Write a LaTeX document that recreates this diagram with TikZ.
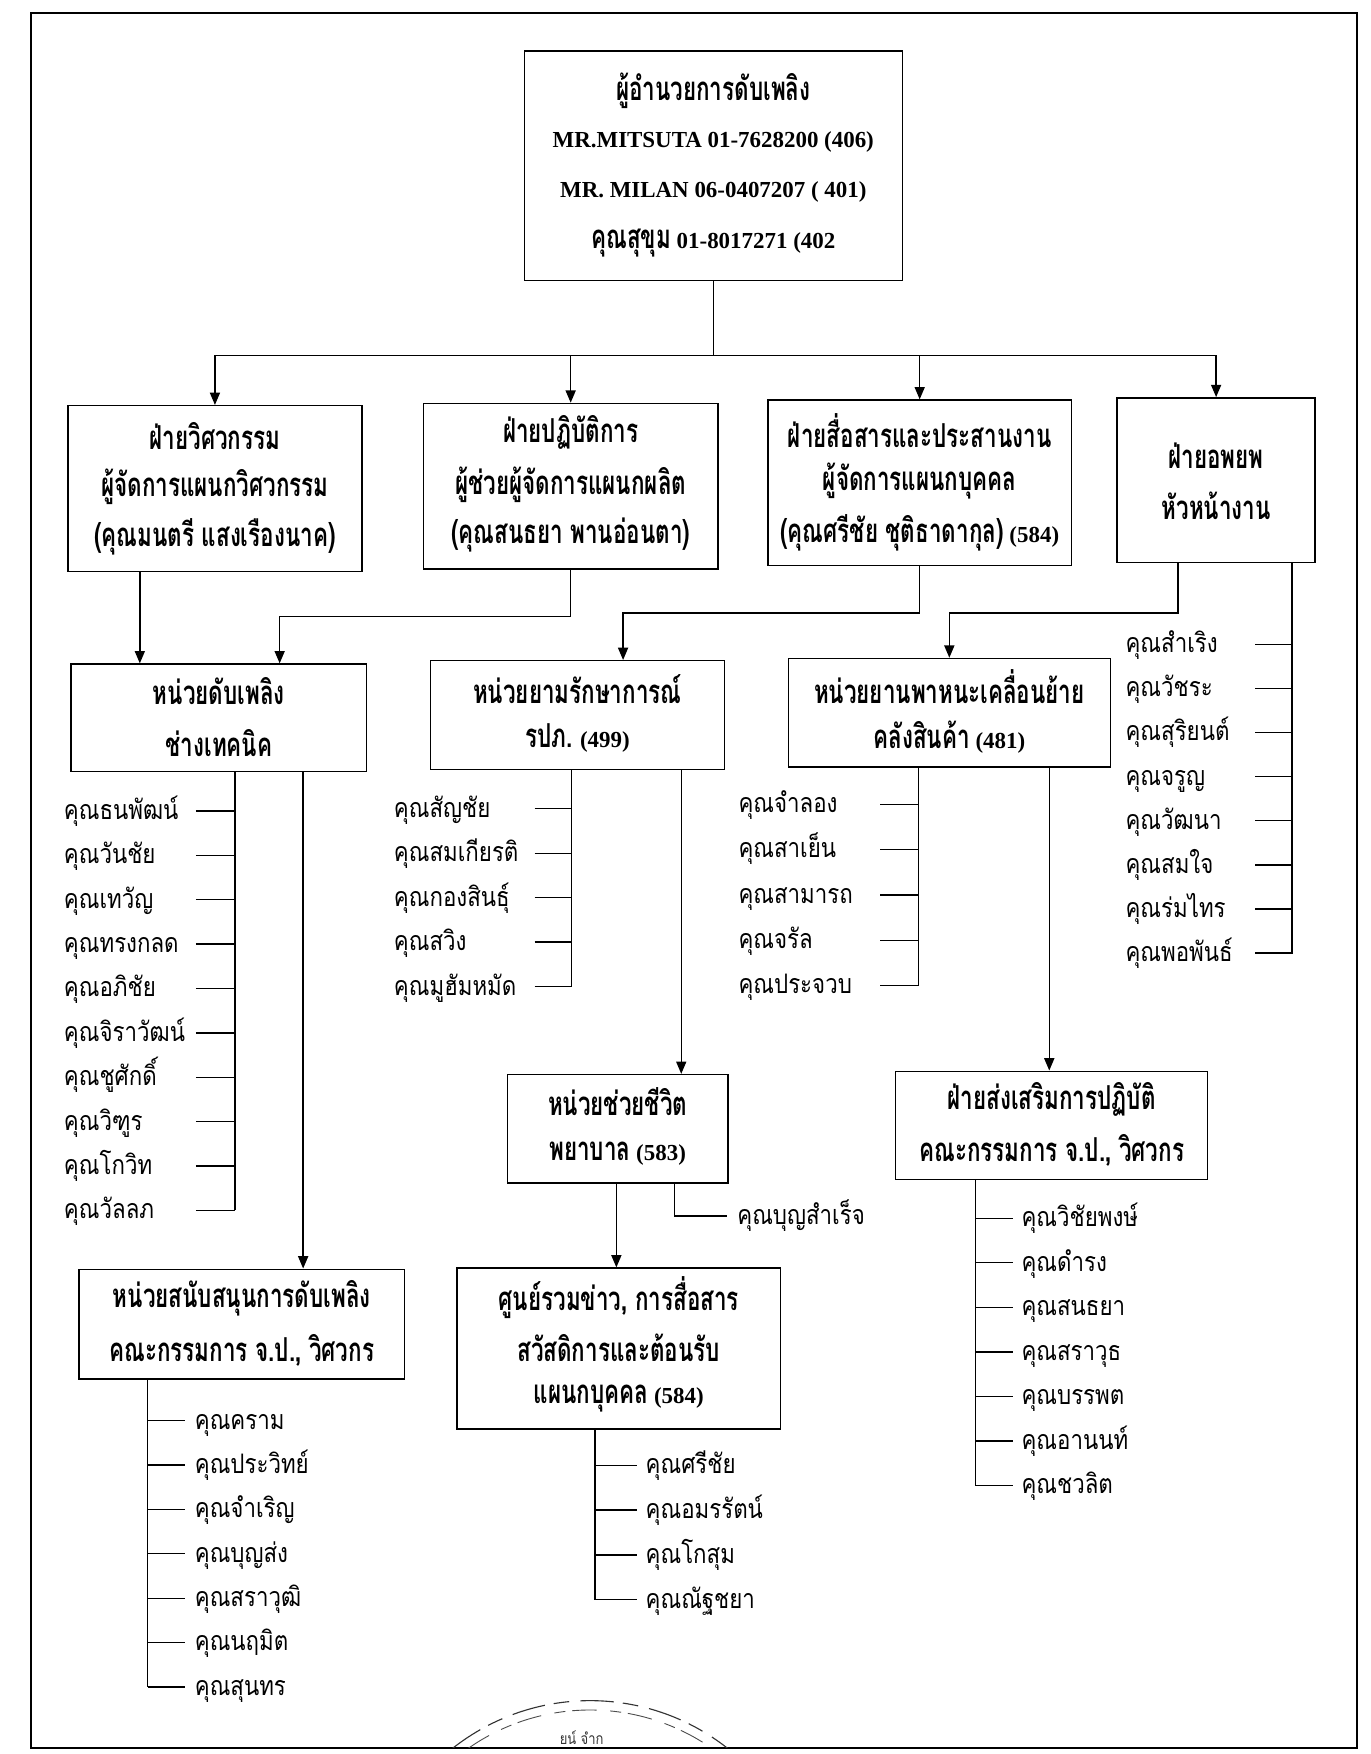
\documentclass[tikz,border=0pt]{standalone}
\usepackage{fontspec}
\setmainfont{Liberation Serif}
\newfontfamily\thaiB[Script=Thai,FakeStretch=0.68]{Loma}
\newfontfamily\thaiR[Script=Thai,FakeStretch=0.83]{Loma}
\usetikzlibrary{arrows.meta,calc}
\newcommand\TB[1]{{\thaiB\bfseries\fontsize{29.5}{32}\selectfont #1}}
\begin{document}
\begin{tikzpicture}[x=1pt,y=-1pt,
  box/.style={draw,line width=1.3pt,inner sep=0,anchor=north west},
  conn/.style={line width=1.2pt},
  arr/.style={conn,-{Triangle[length=11pt,width=9pt]}},
  ttl/.style={inner sep=0,font=\bfseries\fontsize{20.5}{24}\selectfont},
  nm/.style={inner sep=0,anchor=base west,font=\thaiR\fontsize{24}{28}\selectfont},
]
\useasboundingbox (0,0) rectangle (1225,1568);
\fill[white] (0,0) rectangle (1225,1568);
\draw[line width=1.8pt] (28,12) rectangle (1213,1563);

% ---------- boxes ----------
\node[box,minimum width=338,minimum height=205] (top) at (468,45) {};
\node[ttl] (top1) at (top.north |- 0,81) {\TB{ผู้อำนวยการดับเพลิง}};
\node[ttl] (top2) at (top.north |- 0,127) {MR.MITSUTA 01-7628200 (406)};
\node[ttl] (top3) at (top.north |- 0,172) {MR. MILAN 06-0407207 ( 401)};
\node[ttl] (top4) at (top.north |- 0,217) {\TB{คุณสุขุม} 01-8017271 (402};

\node[box,minimum width=263,minimum height=148] (b1) at (60,362) {};
\node[ttl] (b1a) at (b1.north |- 0,390) {\TB{ฝ่ายวิศวกรรม}};
\node[ttl] (b1b) at (b1.north |- 0,435) {\TB{ผู้จัดการแผนกวิศวกรรม}};
\node[ttl] (b1c) at (b1.north |- 0,480) {\TB{(คุณมนตรี แสงเรืองนาค)}};

\node[box,minimum width=263,minimum height=148] (b2) at (378,360) {};
\node[ttl] (b2a) at (b2.north |- 0,387) {\TB{ฝ่ายปฏิบัติการ}};
\node[ttl] (b2b) at (b2.north |- 0,433) {\TB{ผู้ช่วยผู้จัดการแผนกผลิต}};
\node[ttl] (b2c) at (b2.north |- 0,478) {\TB{(คุณสนธยา พานอ่อนตา)}};

\node[box,minimum width=271,minimum height=148] (b3) at (686,357) {};
\node[ttl] (b3a) at (b3.north |- 0,385) {\TB{ฝ่ายสื่อสารและประสานงาน}};
\node[ttl] (b3b) at (b3.north |- 0,430) {\TB{ผู้จัดการแผนกบุคคล}};
\node[ttl] (b3c) at (b3.north |- 0,476) {\TB{(คุณศรีชัย ชุติธาดากุล)} (584)};

\node[box,minimum width=177,minimum height=147] (b4) at (998,355) {};
\node[ttl] (b4a) at (b4.north |- 0,407) {\TB{ฝ่ายอพยพ}};
\node[ttl] (b4b) at (b4.north |- 0,452) {\TB{หัวหน้างาน}};

\node[box,minimum width=264,minimum height=96] (c1) at (63,593) {};
\node[ttl] (c1a) at (c1.north |- 0,618) {\TB{หน่วยดับเพลิง}};
\node[ttl] (c1b) at (c1.north |- 0,664) {\TB{ช่างเทคนิค}};

\node[box,minimum width=263,minimum height=97] (c2) at (384,590) {};
\node[ttl] (c2a) at (c2.north |- 0,616) {\TB{หน่วยยามรักษาการณ์}};
\node[ttl] (c2b) at (c2.north |- 0,660) {\TB{รปภ.} (499)};

\node[box,minimum width=288,minimum height=97] (c3) at (704,588) {};
\node[ttl] (c3a) at (c3.north |- 0,614) {\TB{หน่วยยานพาหนะเคลื่อนย้าย}};
\node[ttl] (c3b) at (c3.north |- 0,659) {\TB{คลังสินค้า} (481)};

\node[box,minimum width=291,minimum height=98] (d1) at (70,1134) {};
\node[ttl] (d1a) at (d1.north |- 0,1161) {\TB{หน่วยสนับสนุนการดับเพลิง}};
\node[ttl] (d1b) at (d1.north |- 0,1207) {\TB{คณะกรรมการ จ.ป., วิศวกร}};

\node[box,minimum width=197,minimum height=97] (e1) at (453,960) {};
\node[ttl] (e1a) at (e1.north |- 0,985) {\TB{หน่วยช่วยชีวิต}};
\node[ttl] (e1b) at (e1.north |- 0,1031) {\TB{พยาบาล} (583)};

\node[box,minimum width=289,minimum height=144] (e2) at (408,1133) {};
\node[ttl] (e2a) at (e2.north |- 0,1160) {\TB{ศูนย์รวมข่าว, การสื่อสาร}};
\node[ttl] (e2b) at (e2.north |- 0,1205) {\TB{สวัสดิการและต้อนรับ}};
\node[ttl] (e2c) at (e2.north |- 0,1250) {\TB{แผนกบุคคล} (584)};

\node[box,minimum width=279,minimum height=97] (f1) at (800,957) {};
\node[ttl] (f1a) at (f1.north |- 0,983) {\TB{ฝ่ายส่งเสริมการปฏิบัติ}};
\node[ttl] (f1b) at (f1.north |- 0,1028) {\TB{คณะกรรมการ จ.ป., วิศวกร}};

% ---------- connectors ----------
\coordinate (bus) at (640,318);
\draw[conn] (top.south) -- (top.south |- bus);
\foreach \b in {b1,b2,b3,b4} \draw[arr] (top.south |- bus) -| (\b.north);

\draw[arr] (b1.south -| 125,0) -- (c1.north -| 125,0);
\draw[arr] (b2.south) |- (250,551) -- (c1.north -| 250,0);
\draw[arr] (b3.south) |- (557,548) -- (c2.north -| 557,0);
\draw[arr] (b4.south -| 1053,0) |- (c3.north |- 0,548) -- (c3.north);

\draw[arr] (c1.south -| 271,0) -- (d1.north -| 271,0);
\draw[arr] (c2.south -| 609,0) -- (e1.north -| 609,0);
\draw[arr] (e1.south -| 551,0) -- (e2.north -| 551,0);
\draw[arr] (c3.south -| 938,0) -- (f1.north -| 938,0);

% ---------- name lists (text baseline 7.5pt below tick) ----------
% C1
\draw[conn] (c1.south -| 210,0) -- (210,1082);
\foreach \t [count=\i from 0] in {คุณธนพัฒน์,คุณวันชัย,คุณเทวัญ,คุณทรงกลด,คุณอภิชัย,คุณจิราวัฒน์,คุณชูศักดิ์,คุณวิฑูร,คุณโกวิท,คุณวัลลภ}{
  \node[nm] (c1n\i) at (57,{732.5+39.67*\i}) {\t};
  \draw[conn] ([yshift=7.5pt]c1n\i.base west -| 175,0) -- ([yshift=7.5pt]c1n\i.base west -| 210,0);
}
% C2
\draw[conn] (c2.south -| 511,0) -- (511,882);
\foreach \t [count=\i from 0] in {คุณสัญชัย,คุณสมเกียรติ,คุณกองสินธุ์,คุณสวิง,คุณมูฮัมหมัด}{
  \node[nm] (c2n\i) at (352,{730.5+39.75*\i}) {\t};
  \draw[conn] ([yshift=7.5pt]c2n\i.base west -| 478,0) -- ([yshift=7.5pt]c2n\i.base west -| 511,0);
}
% C3
\draw[conn] (c3.south -| 821,0) -- (821,881);
\foreach \t [count=\i from 0] in {คุณจำลอง,คุณสาเย็น,คุณสามารถ,คุณจรัล,คุณประจวบ}{
  \node[nm] (c3n\i) at (660,{726.5+40.5*\i}) {\t};
  \draw[conn] ([yshift=7.5pt]c3n\i.base west -| 787,0) -- ([yshift=7.5pt]c3n\i.base west -| 821,0);
}
% B4
\draw[conn] (b4.south -| 1155,0) -- (1155,853);
\foreach \t [count=\i from 0] in {คุณสำเริง,คุณวัชระ,คุณสุริยนต์,คุณจรูญ,คุณวัฒนา,คุณสมใจ,คุณร่มไทร,คุณพอพันธ์}{
  \node[nm] (b4n\i) at (1006,{583.5+39.43*\i}) {\t};
  \draw[conn] ([yshift=7.5pt]b4n\i.base west -| 1122,0) -- ([yshift=7.5pt]b4n\i.base west -| 1155,0);
}
% D1
\draw[conn] (d1.south -| 132,0) -- (132,1508);
\foreach \t [count=\i from 0] in {คุณคราม,คุณประวิทย์,คุณจำเริญ,คุณบุญส่ง,คุณสราวุฒิ,คุณนฤมิต,คุณสุนทร}{
  \node[nm] (d1n\i) at (174,{1277.5+39.67*\i}) {\t};
  \draw[conn] ([yshift=7.5pt]d1n\i.base west -| 132,0) -- ([yshift=7.5pt]d1n\i.base west -| 165,0);
}
% E2
\draw[conn] (e2.south -| 532,0) -- (532,1430);
\foreach \t [count=\i from 0] in {คุณศรีชัย,คุณอมรรัตน์,คุณโกสุม,คุณณัฐชยา}{
  \node[nm] (e2n\i) at (577,{1317.5+40*\i}) {\t};
  \draw[conn] ([yshift=7.5pt]e2n\i.base west -| 532,0) -- ([yshift=7.5pt]e2n\i.base west -| 569,0);
}
% F1
\draw[conn] (f1.south -| 872,0) -- (872,1328);
\foreach \t [count=\i from 0] in {คุณวิชัยพงษ์,คุณดำรง,คุณสนธยา,คุณสราวุธ,คุณบรรพต,คุณอานนท์,คุณชวลิต}{
  \node[nm] (f1n\i) at (913,{1096.5+39.83*\i}) {\t};
  \draw[conn] ([yshift=7.5pt]f1n\i.base west -| 872,0) -- ([yshift=7.5pt]f1n\i.base west -| 906,0);
}
% E1 side
\node[nm] (e1n) at (659,1094.5) {คุณบุญสำเร็จ};
\draw[conn] (e1.south -| 603,0) |- ([yshift=7.5pt]e1n.base west -| 650,0);

% ---------- stamp ----------
\begin{scope}
\clip (28,12) rectangle (1213,1562);
\draw[line width=1pt,black!80,dash pattern=on 30pt off 8pt on 14pt off 10pt]
  (404.5,1563) arc[start angle=-128.3,end angle=-51.7,radius=198.5];
\draw[line width=0.8pt,black!70,dash pattern=on 22pt off 12pt on 10pt off 6pt]
  (418.5,1563) arc[start angle=-125,end angle=-55,radius=190];
\node[inner sep=0,font=\thaiR\fontsize{14}{16}\selectfont,black!80] (stamp) at (520,1553) {ยน์ จำก};
\end{scope}
\end{tikzpicture}
\end{document}
